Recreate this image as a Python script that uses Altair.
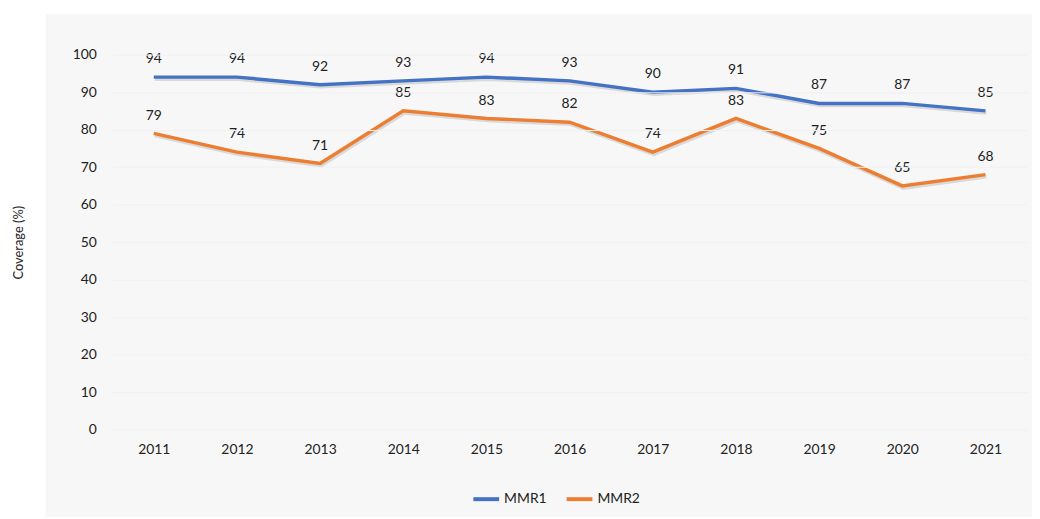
import altair as alt
import pandas as pd

years = ["2011", "2012", "2013", "2014", "2015", "2016", "2017", "2018", "2019", "2020", "2021"]
mmr1 = [94, 94, 92, 93, 94, 93, 90, 91, 87, 87, 85]
mmr2 = [79, 74, 71, 85, 83, 82, 74, 83, 75, 65, 68]
series = ["MMR1", "MMR2"]
colors = ["#4472C4", "#ED7D31"]

rows = []
for s, vals in zip(series, [mmr1, mmr2]):
    for y, v in zip(years, vals):
        rows.append({"Year": y, "Series": s, "Coverage": v})
df = pd.DataFrame(rows)

FONT = "Lato"

x_enc = alt.X("Year:O", sort=years, scale=alt.Scale(type="point", padding=0.5),
              axis=alt.Axis(title=None, labelAngle=0, ticks=False, domain=False,
                            labelPadding=13, labelFontSize=14, labelColor="#222222",
                            labelFont=FONT, grid=False, zindex=1))
y_enc = alt.Y("Coverage:Q", scale=alt.Scale(domain=[0, 100], nice=False),
              axis=alt.Axis(title="Coverage (%)", values=list(range(0, 101, 10)),
                            ticks=False, domain=False, labelPadding=16,
                            labelFontSize=14, labelColor="#222222", labelFont=FONT,
                            titleFont=FONT, titleFontSize=13, titleFontWeight="normal",
                            titleColor="#222222", titlePadding=47,
                            grid=True, gridColor="#f1f1f1", gridWidth=1, zindex=1))

bg = alt.Chart(pd.DataFrame({"a": [0]})).mark_rect(color="#f7f7f7").encode(
    x=alt.value(-67), x2=alt.value(927), y=alt.value(-41), y2=alt.value(466)
)

base = alt.Chart(df)

shadow = base.mark_line(strokeWidth=4, color="#000000", opacity=0.12, xOffset=1, yOffset=2).encode(
    x=x_enc, y=y_enc, detail="Series:N"
)

lines = base.mark_line(strokeWidth=3.5).encode(
    x=x_enc, y=y_enc,
    color=alt.Color("Series:N", scale=alt.Scale(domain=series, range=colors),
                    legend=alt.Legend(title=None, orient="none", direction="horizontal",
                                      legendX=362, legendY=433, symbolType="stroke",
                                      symbolSize=676, symbolStrokeWidth=4,
                                      labelFont=FONT, labelFontSize=14, labelColor="#222222",
                                      labelOffset=3, columnPadding=12))
)

labels = base.mark_text(dy=-18, font=FONT, fontSize=14, color="#222222").encode(
    x=x_enc, y=y_enc, text="Coverage:Q"
)

chart = alt.layer(bg, shadow, lines, labels).properties(
    width=922, height=378,
    autosize=alt.AutoSizeParams(type="none"),
    padding={"left": 105, "top": 45, "right": 5, "bottom": 88},
    background="#ffffff",
).configure_view(stroke=None)

chart.save("out.html", embed_options={"renderer": "svg", "actions": False})
